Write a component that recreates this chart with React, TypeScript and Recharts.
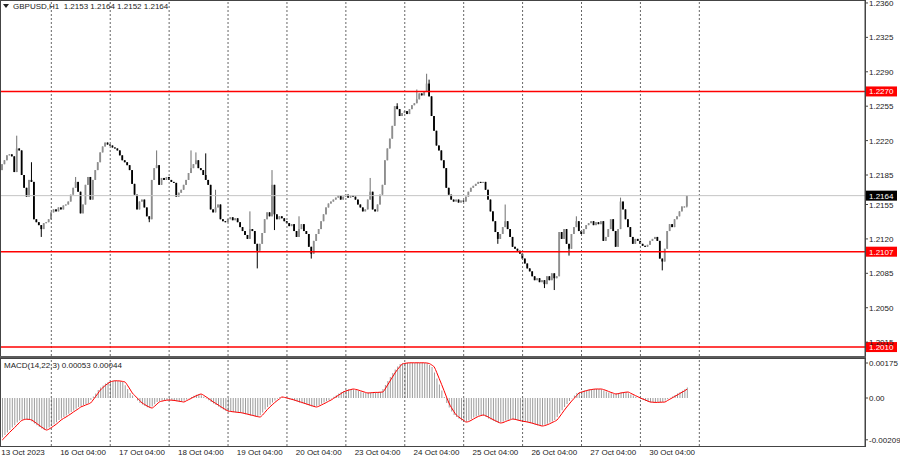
import React from "react";
import { ComposedChart, Bar, Line, XAxis, YAxis, ReferenceLine } from "recharts";

// GBPUSD H1 closes per trading day, in points above 1.2000 (2196 = 1.2196)
const oct13 = [2196, 2200, 2205, 2206, 2204, 2188, 2212, 2210, 2185, 2172, 2163, 2180, 2178, 2140, 2137, 2134, 2130, 2136, 2137, 2140];
const oct16 = [2147, 2150, 2148, 2152, 2150, 2154, 2155, 2158, 2165, 2172, 2178, 2168, 2146, 2155, 2175, 2183, 2160, 2180, 2190, 2198, 2208, 2214, 2218, 2216];
const oct17 = [2215, 2213, 2212, 2210, 2205, 2200, 2198, 2195, 2190, 2176, 2165, 2150, 2158, 2160, 2152, 2143, 2140, 2180, 2192, 2195, 2175, 2182, 2180, 2183];
const oct18 = [2180, 2178, 2177, 2163, 2167, 2170, 2175, 2180, 2187, 2192, 2196, 2200, 2192, 2190, 2185, 2180, 2175, 2150, 2147, 2152, 2155, 2140, 2138, 2137];
const oct19 = [2140, 2142, 2139, 2141, 2137, 2132, 2128, 2124, 2120, 2130, 2128, 2115, 2108, 2115, 2126, 2140, 2147, 2143, 2175, 2145, 2140, 2143, 2141, 2138];
const oct20 = [2136, 2133, 2135, 2128, 2122, 2130, 2135, 2128, 2125, 2112, 2105, 2118, 2125, 2130, 2138, 2145, 2152, 2156, 2158, 2160, 2162, 2164, 2160, 2163];
const oct23 = [2165, 2162, 2164, 2163, 2160, 2155, 2152, 2148, 2150, 2160, 2168, 2150, 2148, 2155, 2165, 2175, 2200, 2212, 2222, 2235, 2255, 2252, 2245, 2248];
const oct24 = [2250, 2247, 2252, 2256, 2258, 2262, 2268, 2266, 2270, 2278, 2265, 2245, 2230, 2215, 2210, 2200, 2192, 2172, 2165, 2160, 2158, 2160, 2157, 2159];
const oct25 = [2158, 2163, 2168, 2172, 2174, 2176, 2178, 2177, 2178, 2170, 2160, 2148, 2138, 2127, 2120, 2125, 2132, 2138, 2130, 2122, 2112, 2110, 2108, 2105];
const oct26 = [2100, 2095, 2090, 2087, 2082, 2078, 2080, 2076, 2078, 2074, 2082, 2078, 2085, 2080, 2082, 2127, 2120, 2130, 2115, 2110, 2125, 2132, 2138, 2128];
const oct27 = [2125, 2130, 2134, 2136, 2138, 2134, 2137, 2135, 2138, 2118, 2122, 2130, 2140, 2128, 2112, 2130, 2158, 2150, 2140, 2132, 2122, 2115, 2120, 2118];
const oct30 = [2115, 2113, 2112, 2114, 2118, 2120, 2122, 2118, 2100, 2097, 2110, 2128, 2135, 2132, 2140, 2143, 2148, 2153, 2153, 2164];
const firstOpen = 2190;

// visible wick extremes [bar, points]
const spikeHighs = [[6, 2225], [12, 2198], [30, 2183], [63, 2210], [77, 2210], [79, 2208], [83, 2207], [87, 2170], [101, 2148], [110, 2190], [121, 2143], [150, 2182], [161, 2258], [169, 2272], [173, 2288], [174, 2282], [205, 2155], [234, 2143], [252, 2162]];
const spikeLows = [[16, 2122], [60, 2137], [104, 2090], [111, 2129], [126, 2100], [202, 2115], [221, 2070], [225, 2068], [231, 2103], [269, 2088], [279, 2152]];

// MACD(14,22,3), units of 0.00001
const macdMain = [
  -198, -185, -172, -160, -148, -136, -123, -112, -108, -106, -107, -110, -118, -127, -136, -145, -153, -160, -156, -148,
  -140, -131, -121, -110, -102, -95, -87, -79, -70, -62, -54, -45, -40, -35, -30, -25, -10, 7, 23, 40,
  52, 63, 72, 80, 84, 86, 86, 85, 83, 80, 64, 45, 25, 12, 0, -12, -25, -32, -40, -46,
  -50, -42, -31, -20, -16, -13, -11, -10, -11, -12, -14, -16, -18, -20, -14, -8, -2, 5, 11, 16,
  20, 14, 6, -2, -11, -20, -27, -35, -43, -51, -58, -65, -67, -69, -70, -72, -73, -75, -78, -81,
  -84, -87, -90, -93, -95, -86, -72, -58, -45, -34, -23, -13, -4, 5, 3, 0, -3, -7, -10, -14,
  -18, -22, -26, -30, -34, -38, -42, -45, -41, -35, -29, -23, -16, -10, -2, 6, 14, 22, 30, 35,
  39, 42, 45, 43, 40, 36, 32, 28, 25, 26, 27, 28, 28, 29, 30, 45, 65, 85, 105, 125,
  142, 157, 170, 173, 175, 176, 176, 176, 176, 176, 176, 176, 175, 172, 165, 155, 128, 98, 68, 37,
  5, -25, -48, -68, -85, -95, -104, -112, -120, -118, -112, -105, -98, -92, -88, -85, -89, -95, -102, -108,
  -114, -120, -125, -123, -118, -113, -109, -105, -107, -110, -113, -116, -118, -120, -123, -126, -130, -133, -137, -140,
  -138, -134, -129, -123, -117, -110, -95, -78, -61, -45, -30, -15, -2, 12, 25, 29, 33, 37, 40, 42,
  44, 45, 45, 45, 42, 38, 33, 28, 24, 20, 22, 25, 27, 29, 30, 24, 18, 12, 6, 0,
  -5, -10, -15, -20, -21, -22, -22, -21, -21, -20, -13, -6, 1, 8, 15, 22, 29, 36, 44, 53,
];
const macdSignal = [
  -210, -198, -185, -172, -160, -148, -136, -123, -112, -108, -106, -107, -110, -118, -127, -136, -145, -153, -160, -156,
  -148, -140, -131, -121, -110, -102, -95, -87, -79, -70, -62, -54, -45, -40, -35, -30, -25, -10, 7, 23,
  40, 52, 63, 72, 80, 84, 86, 86, 85, 83, 80, 64, 45, 25, 12, 0, -12, -25, -32, -40,
  -46, -50, -42, -31, -20, -16, -13, -11, -10, -11, -12, -14, -16, -18, -20, -14, -8, -2, 5, 11,
  16, 20, 14, 6, -2, -11, -20, -27, -35, -43, -51, -58, -65, -67, -69, -70, -72, -73, -75, -78,
  -81, -84, -87, -90, -93, -95, -86, -72, -58, -45, -34, -23, -13, -4, 5, 3, 0, -3, -7, -10,
  -14, -18, -22, -26, -30, -34, -38, -42, -45, -41, -35, -29, -23, -16, -10, -2, 6, 14, 22, 30,
  35, 39, 42, 45, 43, 40, 36, 32, 28, 25, 26, 27, 28, 28, 29, 30, 45, 65, 85, 105,
  125, 142, 157, 170, 173, 175, 176, 176, 176, 176, 176, 176, 176, 175, 172, 165, 155, 128, 98, 68,
  37, 5, -25, -48, -68, -85, -95, -104, -112, -120, -118, -112, -105, -98, -92, -88, -85, -89, -95, -102,
  -108, -114, -120, -125, -123, -118, -113, -109, -105, -107, -110, -113, -116, -118, -120, -123, -126, -130, -133, -137,
  -140, -138, -134, -129, -123, -117, -110, -95, -78, -61, -45, -30, -15, -2, 12, 25, 29, 33, 37, 40,
  42, 44, 45, 45, 45, 42, 38, 33, 28, 24, 20, 22, 25, 27, 29, 30, 24, 18, 12, 6,
  0, -5, -10, -15, -20, -21, -22, -22, -21, -21, -20, -13, -6, 1, 8, 15, 22, 29, 36, 44,
];

const priceTicks = [2360, 2325, 2290, 2255, 2220, 2185, 2155, 2120, 2085, 2050, 2015];
const macdTicks = [175, 0, -209];
const levels = [2270, 2107, 2010];
const lastPrice = 2164;
const gridBars = [20, 44, 68, 92, 116, 140, 164, 188, 212, 236, 260, 284];
const labelBars = [0, 24, 48, 72, 96, 120, 144, 168, 192, 216, 240, 264];
const labelTexts = ["13 Oct 2023", "16 Oct 04:00", "17 Oct 04:00", "18 Oct 04:00", "19 Oct 04:00", "20 Oct 04:00",
  "23 Oct 04:00", "24 Oct 04:00", "25 Oct 04:00", "26 Oct 04:00", "27 Oct 04:00", "30 Oct 04:00"];

const SLOTS = 352; // bars + empty space on the right
const FONT = "'Liberation Sans', Arial, sans-serif";

const closes = [...oct13, ...oct16, ...oct17, ...oct18, ...oct19, ...oct20, ...oct23, ...oct24, ...oct25, ...oct26, ...oct27, ...oct30];
const highMap = new Map(spikeHighs.map(([b, v]) => [b, v]));
const lowMap = new Map(spikeLows.map(([b, v]) => [b, v]));

const rows = Array.from({ length: SLOTS }, (_, i) => {
  if (i >= closes.length) return { i };
  const o = i === 0 ? firstOpen : closes[i - 1];
  const c = closes[i];
  const h = Math.max(o, c, highMap.get(i) ?? -Infinity);
  const l = Math.min(o, c, lowMap.get(i) ?? Infinity);
  return { i, o, h, l, c, hl: [l, h], m: macdMain[i], s: macdSignal[i] };
});

const fmtPrice = (v: number) => (1 + v / 10000).toFixed(4);
const fmtMacd = (v: number) => (v === 0 ? "0.00" : (v / 100000).toFixed(5));

function Candle(props: any) {
  const { x, y, width, height, payload } = props;
  if (!payload || payload.c == null) return null;
  const top = Math.min(y, y + height);
  const span = Math.abs(height);
  const k = payload.h > payload.l ? span / (payload.h - payload.l) : 0;
  const py = (v: number) => top + (payload.h - v) * k;
  const up = payload.c >= payload.o;
  const cx = x + width / 2;
  const b1 = py(Math.max(payload.o, payload.c));
  const b2 = py(Math.min(payload.o, payload.c));
  return (
    <g>
      <line x1={cx} x2={cx} y1={top} y2={top + Math.max(span, 1)} stroke={up ? "#707070" : "#000"} strokeWidth={1} />
      <rect x={cx - 0.9} y={b1} width={1.8} height={Math.max(b2 - b1, 1)} fill={up ? "#8e8e8e" : "#000"} />
    </g>
  );
}

function PriceTick(props: any) {
  const { x, y, payload } = props;
  return (
    <text x={x} y={y} dy={3} fontSize={8} fill="#222" fontFamily={FONT} textAnchor="start">
      {fmtPrice(payload.value)}
    </text>
  );
}

function MacdTick(props: any) {
  const { x, y, payload } = props;
  return (
    <text x={x} y={y} dy={3} fontSize={8} fill="#222" fontFamily={FONT} textAnchor="start">
      {fmtMacd(payload.value)}
    </text>
  );
}

function TimeTick(props: any) {
  const { x, y, payload } = props;
  const k = labelBars.indexOf(payload.value);
  return (
    <text x={x - 1} y={y + 9} fontSize={8} fill="#222" fontFamily={FONT} textAnchor="start">
      {labelTexts[k]}
    </text>
  );
}

function PriceTag(props: any) {
  const { viewBox, bg, text } = props;
  if (!viewBox) return null;
  const x = viewBox.x + viewBox.width + 1;
  const y = viewBox.y;
  return (
    <g>
      <rect x={x} y={y - 5} width={31} height={10} fill={bg} />
      <text x={x + 3} y={y + 3} fontSize={8} fill="#fff" fontFamily={FONT}>{text}</text>
    </g>
  );
}

const txt = { position: "absolute" as const, fontFamily: FONT, fontSize: 8, color: "#222", whiteSpace: "nowrap" as const };

export default function App() {
  return (
    <div style={{ position: "absolute", left: 0, top: 0, width: 900, height: 460, background: "#fff", overflow: "hidden" }}>
      <div style={{ position: "absolute", left: 0, top: 0 }}>
        <ComposedChart width={900} height={356} data={rows} margin={{ top: 1, right: 0, left: 1, bottom: 0 }} barCategoryGap={0} barGap={0}>
          <XAxis dataKey="i" hide />
          <YAxis orientation="right" type="number" domain={[2000.9, 2362]} allowDataOverflow ticks={priceTicks} interval={0}
            width={35} tickSize={3} tickMargin={1} axisLine={{ stroke: "#444" }} tickLine={{ stroke: "#444" }} tick={<PriceTick />} />
          {gridBars.map((b) => (
            <ReferenceLine key={b} x={b} stroke="#666" strokeDasharray="2 2" />
          ))}
          <ReferenceLine y={lastPrice} stroke="#c4c4c4" label={<PriceTag bg="#000" text={fmtPrice(lastPrice)} />} />
          <Bar dataKey="hl" isAnimationActive={false} shape={(p: any) => <Candle {...p} />} />
          {levels.map((v) => (
            <ReferenceLine key={v} y={v} stroke="#f00" strokeWidth={1.5} label={<PriceTag bg="#f00" text={fmtPrice(v)} />} />
          ))}
        </ComposedChart>
      </div>
      <div style={{ position: "absolute", left: 0, top: 357 }}>
        <ComposedChart width={900} height={103} data={rows} margin={{ top: 2, right: 0, left: 1, bottom: 0 }} barCategoryGap={0} barGap={0}>
          <XAxis dataKey="i" type="category" ticks={labelBars} interval={0} height={14} tickSize={0} tickMargin={0}
            axisLine={false} tickLine={false} tick={<TimeTick />} />
          <YAxis orientation="right" type="number" domain={[-240, 195]} allowDataOverflow ticks={macdTicks} interval={0}
            width={35} tickSize={3} tickMargin={1} axisLine={{ stroke: "#444" }} tickLine={{ stroke: "#444" }} tick={<MacdTick />} />
          {gridBars.map((b) => (
            <ReferenceLine key={b} x={b} stroke="#666" strokeDasharray="2 2" />
          ))}
          <Bar dataKey="m" barSize={1} fill="#9c9c9c" isAnimationActive={false} />
          <Line dataKey="s" type="monotone" stroke="#f00" strokeWidth={1} dot={false} isAnimationActive={false} />
        </ComposedChart>
      </div>
      {/* pane frames */}
      <div style={{ position: "absolute", left: 0, top: 0, width: 866, height: 357, border: "1px solid #444", boxSizing: "border-box", pointerEvents: "none" }} />
      <div style={{ position: "absolute", left: 0, top: 356, width: 866, height: 3, background: "#5c5c5c" }} />
      <div style={{ position: "absolute", left: 0, top: 358, width: 866, height: 89, border: "1px solid #444", boxSizing: "border-box", pointerEvents: "none" }} />
      {/* headers */}
      <svg style={{ position: "absolute", left: 3, top: 4 }} width={6} height={5}>
        <polygon points="0,0 6,0 3,4" fill="#222" />
      </svg>
      <div style={{ ...txt, left: 13, top: 2 }}>GBPUSD,H1&nbsp;&nbsp;1.2153 1.2164 1.2152 1.2164</div>
      <div style={{ ...txt, left: 4, top: 361 }}>MACD(14,22,3) 0.00053 0.00044</div>
    </div>
  );
}
